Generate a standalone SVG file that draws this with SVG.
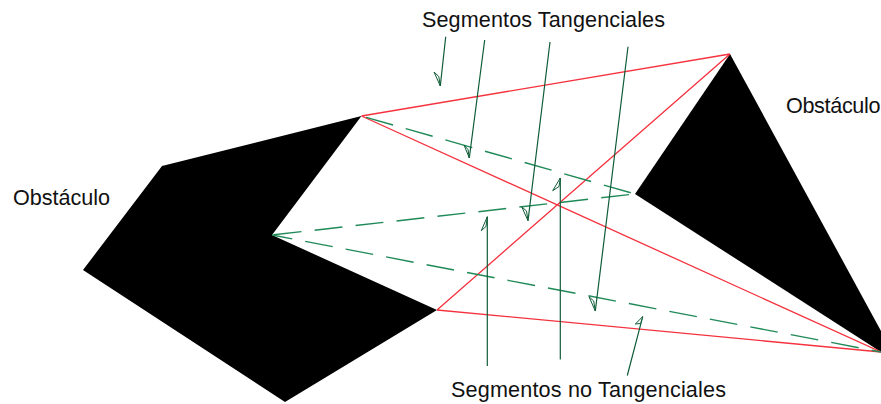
<svg xmlns="http://www.w3.org/2000/svg" width="881" height="404" viewBox="0 0 881 404">
<style>
.obs{fill:#000;stroke:none}
.t{font-family:"Liberation Sans",Arial,sans-serif;font-size:21.6px;fill:#111}
.r{stroke:#f5323e;stroke-width:1.3;fill:none}
.d{stroke:#1f8a58;stroke-width:1.4;fill:none;stroke-dasharray:28 13.2}
.a{stroke:#0f5c38;stroke-width:1.2;fill:none}
.h{stroke:#0f5c38;stroke-width:1;fill:#fff;stroke-linejoin:miter}
</style>
<rect width="881" height="404" fill="#fff"/>
<g id="obstaculo-izq"><polygon class="obs" points="162,166 361.5,116 272,235 437,310 285,402 83,270"/><text class="t" x="13" y="204.5" textLength="97">Obstáculo</text></g>
<g id="obstaculo-der"><polygon class="obs" points="730,54 881,331 881,352 635,194"/><text class="t" x="786" y="112.7" textLength="94.5">Obstáculo</text></g>
<g id="connectors">
<path class="r" d="M361.5,116L730,54M361.5,116L881,352M730,54L437,310M437,310L881,352"/>
<path class="d" stroke-dashoffset="-4.8" d="M361.5,116L635,194"/>
<path class="d" stroke-dashoffset="-1.7" d="M272,235L635,194"/>
<path class="d" stroke-dashoffset="7.4" d="M272,235L881,352"/>
<path class="a" d="M445.7,36.7L440.3,86M484.7,40L469.3,158M550,42L528,220.7M628,46.7L595.3,311M487.3,366V216.7M560.3,359.5V178M627.3,375.5L642.7,316.7"/>
<path class="h" d="M440.3,86L434,72L438.8,76.5ZM469.3,158L464,145L468,149.5ZM528,220.7L521.7,206.7L526.5,211ZM595.3,311L589,296.7L593.7,301ZM487.3,216.7L481.3,230.7L486,226.5ZM560.3,178L552.7,190.7L559,186.5ZM642.7,316.7L635.3,324L640.5,323.5Z"/>
</g>
<g id="label-tangenciales"><text class="t" x="422" y="27" textLength="243">Segmentos Tangenciales</text></g>
<g id="label-no-tangenciales"><text class="t" x="451" y="396.7" textLength="275">Segmentos no Tangenciales</text></g>
</svg>
